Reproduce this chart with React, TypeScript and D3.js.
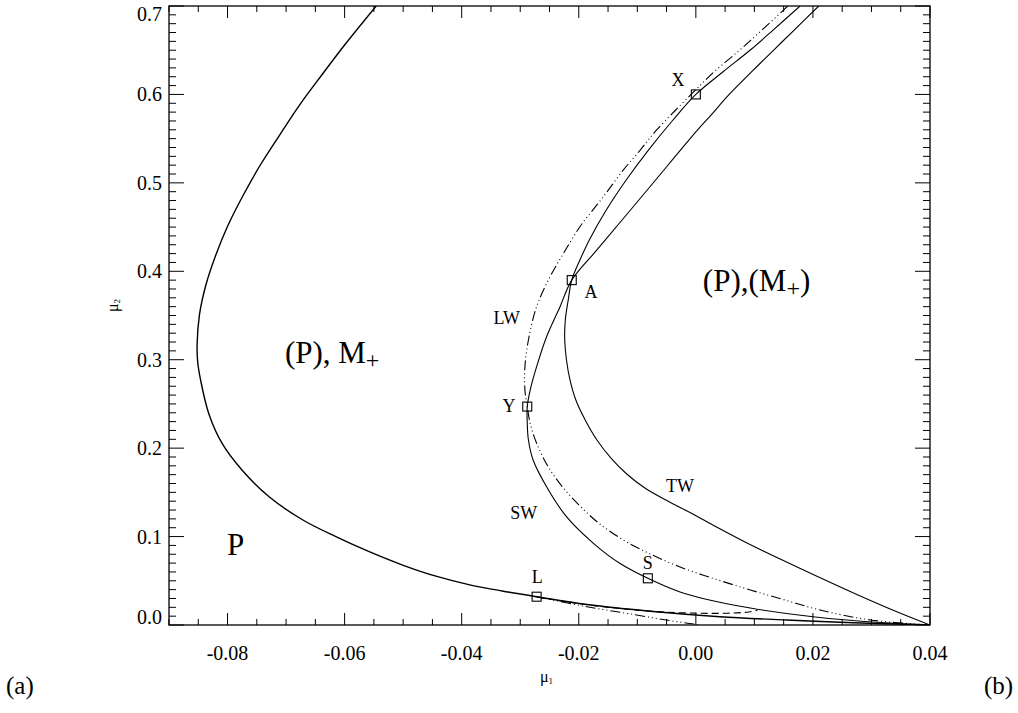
import React from 'react';
import * as d3 from 'd3';

type Pt = [number, number];

const xMajorTicks = [-0.08, -0.06, -0.04, -0.02, 0.0, 0.02, 0.04];
const xTickLabels = ['-0.08', '-0.06', '-0.04', '-0.02', '0.00', '0.02', '0.04'];
const yMajorTicks = [0.0, 0.1, 0.2, 0.3, 0.4, 0.5, 0.6, 0.7];
const yTickLabels = ['0.0', '0.1', '0.2', '0.3', '0.4', '0.5', '0.6', '0.7'];

// outer fold curve (solid)
const outerCurve: Pt[] = [
  [-0.0546, 0.7], [-0.06, 0.6559], [-0.0639, 0.622], [-0.0677, 0.588], [-0.0711, 0.5541],
  [-0.0744, 0.5202], [-0.0773, 0.4863], [-0.0799, 0.4523], [-0.082, 0.4184], [-0.0837, 0.3845],
  [-0.0848, 0.3506], [-0.0852, 0.3167], [-0.0851, 0.2974], [-0.0846, 0.277], [-0.0832, 0.239],
  [-0.0809, 0.205], [-0.0775, 0.175], [-0.0729, 0.145], [-0.0672, 0.119], [-0.0615, 0.0999],
  [-0.0558, 0.0829], [-0.0501, 0.0678], [-0.0444, 0.0552], [-0.0388, 0.0457], [-0.0331, 0.0385],
  [-0.0272, 0.032], [-0.0186, 0.0232], [-0.0073, 0.0153], [0.0041, 0.0094], [0.0155, 0.0057],
  [0.0269, 0.0026], [0.04, 0.0],
];

// solid curve through X and A, then the TW branch
const twCurve: Pt[] = [
  [0.0178, 0.7], [0.0132, 0.6728], [0.0093, 0.6502], [0.0046, 0.6254], [0.0, 0.6],
  [-0.0039, 0.5711], [-0.0081, 0.5371], [-0.0119, 0.5032], [-0.0153, 0.4693], [-0.0182, 0.4354],
  [-0.0198, 0.4128], [-0.0212, 0.39], [-0.0218, 0.3675], [-0.0223, 0.3449], [-0.0224, 0.3223],
  [-0.0221, 0.2997], [-0.0215, 0.2771], [-0.0205, 0.2544], [-0.0189, 0.2318], [-0.0169, 0.2092],
  [-0.0145, 0.1888], [-0.0118, 0.1708], [-0.0087, 0.1549], [-0.0053, 0.1419], [-0.001, 0.1272],
  [0.0029, 0.1131], [0.0084, 0.0939], [0.0144, 0.0746], [0.0258, 0.0396], [0.0332, 0.0181],
  [0.04, 0.0],
];

// solid curve from the top through A, Y and S (the SW branch)
const swCurve: Pt[] = [
  [0.021, 0.7], [0.0168, 0.6728], [0.0133, 0.6502], [0.0095, 0.6254], [0.0057, 0.6],
  [0.0026, 0.5767], [0.0003, 0.5598], [-0.0083, 0.4919], [-0.0169, 0.4241], [-0.0212, 0.39],
  [-0.0232, 0.36], [-0.0255, 0.326], [-0.0272, 0.2921], [-0.0283, 0.2657], [-0.0288, 0.2469],
  [-0.0288, 0.2281], [-0.0286, 0.2092], [-0.0278, 0.1866], [-0.0255, 0.1564], [-0.0221, 0.1225],
  [-0.0175, 0.0924], [-0.013, 0.0698], [-0.0082, 0.0528], [-0.0027, 0.0373], [0.0012, 0.03],
  [0.0093, 0.0192], [0.0204, 0.009], [0.0315, 0.0028], [0.04, 0.0],
];

// LW curve (dash-dot-dot)
const lwCurve: Pt[] = [
  [0.0157, 0.7], [0.0113, 0.6728], [0.0075, 0.6502], [0.0031, 0.6254], [-0.0008, 0.6],
  [-0.0067, 0.5598], [-0.0095, 0.5371], [-0.0124, 0.5145], [-0.0158, 0.4843], [-0.0198, 0.4504],
  [-0.0226, 0.4203], [-0.0249, 0.3939], [-0.0272, 0.36], [-0.0286, 0.3223], [-0.0292, 0.2921],
  [-0.0292, 0.2657], [-0.0288, 0.2469], [-0.0282, 0.225], [-0.027, 0.2024], [-0.0253, 0.1798],
  [-0.0229, 0.1572], [-0.0198, 0.1346], [-0.0164, 0.1142], [-0.0121, 0.095], [-0.0078, 0.0803],
  [-0.0027, 0.0656], [0.0033, 0.052], [0.0093, 0.0396], [0.0152, 0.0283], [0.0212, 0.017],
  [0.0298, 0.0057], [0.04, 0.0],
];

// short dashed branch from L
const dashedBranch: Pt[] = [
  [-0.0272, 0.032], [-0.0186, 0.0229], [-0.0073, 0.0154], [0.0, 0.0134], [0.005, 0.0133],
  [0.0087, 0.0145], [0.0105, 0.0165],
];

// short dash-dot-dot branch from L
const dotBranch: Pt[] = [
  [-0.0272, 0.032], [-0.0186, 0.0207], [-0.0101, 0.0113], [-0.0044, 0.0049], [-0.0004, 0.0011],
  [0.0005, 0.0],
];

const markerNames = ['X', 'A', 'Y', 'L', 'S'];
const markerX = [0.0, -0.0212, -0.0288, -0.0272, -0.0082];
const markerY = [0.6, 0.39, 0.247, 0.032, 0.0528];

const curveLabels = ['X', 'A', 'LW', 'Y', 'SW', 'TW', 'S', 'L'];
const curveLabelX = [-0.00305, -0.0179, -0.0323, -0.0319, -0.0294, -0.0027, -0.0082, -0.0271];
const curveLabelY = [0.6163, 0.3766, 0.3472, 0.2477, 0.1267, 0.1572, 0.0701, 0.0543];

const W = 1018;
const H = 713;
const left = 169, right = 930, top = 6, bottom = 625;

export default function App() {
  const x = d3.scaleLinear().domain([-0.09, 0.04]).range([left, right]);
  const y = d3.scaleLinear().domain([0, 0.7]).range([bottom, top]);
  const line = d3.line<Pt>().x(d => x(d[0])).y(d => y(d[1])).curve(d3.curveCatmullRom.alpha(0.5));

  const xMinor = d3.range(-0.09, 0.04001, 0.005).map(v => +v.toFixed(4));
  const yMinor = d3.range(0, 0.70001, 0.01).map(v => +v.toFixed(3));
  const isXMajor = (v: number) => xMajorTicks.some(m => Math.abs(m - v) < 1e-6);
  const isYMajor = (v: number) => yMajorTicks.some(m => Math.abs(m - v) < 1e-6);

  const font = 'Liberation Serif, Times New Roman, serif';
  const sq = 9;
  const dashDots = '10,3,1,3,1,3,1,3';

  return (
    <svg width={W} height={H} style={{ position: 'absolute', left: 0, top: 0, background: '#fff' }}
      fontFamily={font}>
      <defs>
        <clipPath id="plotclip">
          <rect x={left} y={top} width={right - left} height={bottom - top} />
        </clipPath>
      </defs>
      <rect x={0} y={0} width={W} height={H} fill="#fff" />
      {/* ticks */}
      <g stroke="#000" strokeWidth={1}>
        {xMinor.map((v, i) => {
          const len = isXMajor(v) ? 12 : 6;
          const px = x(v);
          return (
            <g key={'xt' + i}>
              <line x1={px} x2={px} y1={bottom} y2={bottom - len} />
              <line x1={px} x2={px} y1={top} y2={top + len} />
            </g>
          );
        })}
        {yMinor.map((v, i) => {
          const len = isYMajor(v) ? 15 : 7;
          const py = y(v);
          return (
            <g key={'yt' + i}>
              <line x1={left} x2={left + len} y1={py} y2={py} />
              <line x1={right} x2={right - len} y1={py} y2={py} />
            </g>
          );
        })}
      </g>
      <rect x={left} y={top} width={right - left} height={bottom - top} fill="none" stroke="#000" strokeWidth={1.3} />
      {/* tick labels */}
      <g fontSize={20} fill="#000">
        {xMajorTicks.map((v, i) => (
          <text key={'xl' + i} x={x(v)} y={653} textAnchor="middle" dominantBaseline="central">{xTickLabels[i]}</text>
        ))}
        {yMajorTicks.map((v, i) => (
          <text key={'yl' + i} x={162} y={Math.min(617, Math.max(14, y(v)))} textAnchor="end" dominantBaseline="central">{yTickLabels[i]}</text>
        ))}
      </g>
      {/* curves */}
      <g clipPath="url(#plotclip)" fill="none" stroke="#000">
        <path d={line(outerCurve) || ''} strokeWidth={1.4} />
        <path d={line(twCurve) || ''} strokeWidth={1.1} />
        <path d={line(swCurve) || ''} strokeWidth={1.1} />
        <path d={line(lwCurve) || ''} strokeWidth={1.1} strokeDasharray={dashDots} />
        <path d={line(dashedBranch) || ''} strokeWidth={1.1} strokeDasharray="7,4" />
        <path d={line(dotBranch) || ''} strokeWidth={1.1} strokeDasharray={dashDots} />
      </g>
      {/* markers */}
      <g fill="none" stroke="#000" strokeWidth={1.1}>
        {markerNames.map((n, i) => (
          <rect key={'m' + n} x={x(markerX[i]) - sq / 2} y={y(markerY[i]) - sq / 2} width={sq} height={sq} />
        ))}
      </g>
      {/* curve labels */}
      <g fontSize={18} fill="#000">
        {curveLabels.map((t, i) => (
          <text key={'cl' + i} x={x(curveLabelX[i])} y={y(curveLabelY[i])} textAnchor="middle" dominantBaseline="central">{t}</text>
        ))}
      </g>
      {/* region labels */}
      <g fontSize={31} fill="#000">
        <text x={x(-0.0702)} y={y(0.3087)} dominantBaseline="central">(P), M<tspan fontSize={24} dy={8}>+</tspan></text>
        <text x={x(0.0012)} y={y(0.39)} dominantBaseline="central">(P),(M<tspan fontSize={24} dy={8}>+</tspan><tspan dy={-8}>)</tspan></text>
        <text x={x(-0.0786)} y={y(0.0905)} textAnchor="middle" dominantBaseline="central">P</text>
      </g>
      {/* axis titles */}
      <text x={540} y={682} fontSize={16}>μ<tspan fontSize={9} dy={2}>1</tspan></text>
      <text transform="translate(118,312) rotate(-90)" fontSize={16}>μ<tspan fontSize={9} dy={2}>2</tspan></text>
      <text x={6} y={694} fontSize={25}>(a)</text>
      <text x={984} y={694} fontSize={25}>(b)</text>
    </svg>
  );
}
